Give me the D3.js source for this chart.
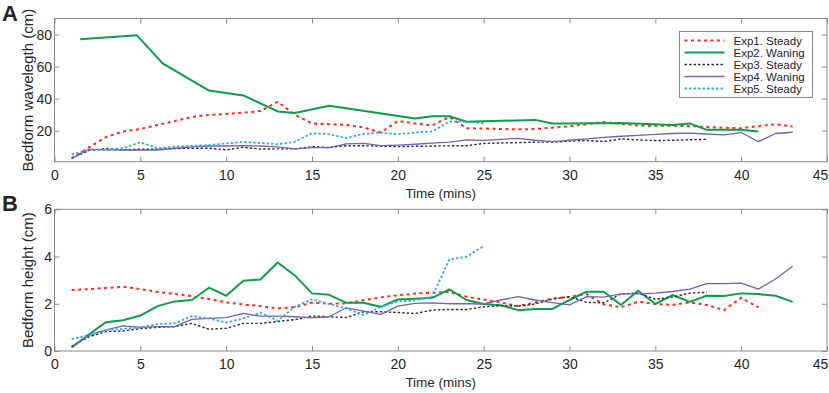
<!DOCTYPE html>
<html>
<head>
<meta charset="utf-8">
<script src="https://cdn.jsdelivr.net/npm/d3@7"></script>
<style>
  body { margin: 0; background: #fff; }
  text { font-family: "Liberation Sans", Arial, sans-serif; fill: #262626; }
</style>
</head>
<body>
<div id="chart"></div>
<script>
var width = 829
var height = 393

// series names and styles for the legend
var names = ["Exp1. Steady", "Exp2. Waning", "Exp3. Steady", "Exp4. Waning", "Exp5. Steady"]
var xTicks = [0, 5, 10, 15, 20, 25, 30, 35, 40, 45]
var yTicksA = [20, 40, 60, 80]
var yTicksB = [0, 2, 4, 6]

// panel A : bedform wavelength (cm)
var tA1 = [1,2,3,4,5,6,7,8,9,10,11,12,13,14,15,16,17,18,19,20,21,22,23,24,25,26,27,28,29,30,31,32,33,34,35,36,37,38,39,40,41,42,43]
var vA1 = [2.5,9.5,16,19.5,21,23.5,26,28.5,29.8,30.4,31.2,32.2,38,30,24.5,24,23.5,22,18.8,26,24.5,23.3,28.5,21.5,21.3,21,20.8,21,21.8,22.8,24,25.4,24.2,23.2,23,23,22.8,22.2,21.8,21.5,22.8,24,22.5]
var tA2 = [1.5,4.8,6.3,9,11,13,14,16,21,22,23,24,28,29,30,33,36,37,38,40,41]
var vA2 = [77,79.5,62,45,42,32,31,35.5,27.5,29,29,25.5,26.7,24.5,24.5,24.8,23.5,24.5,20.5,20.5,19.5]
var tA3 = [1,2,3,4,5,6,7,8,9,10,11,12,13,14,15,16,17,18,19,20,21,22,23,24,25,26,27,28,29,30,31,32,33,34,35,36,37,38]
var vA3 = [3,7.5,8.8,8,8.4,8.4,8.8,9,9,8,9.6,8.5,8.6,8.6,10,9.4,10.6,10.6,10.3,10,10.2,10.4,10.5,10.6,12,12.3,12.5,12.8,12.8,13.5,13.8,13.2,14.8,14.2,13.8,14,14.3,14.6]
var tA4 = [1,2,3,4,5,6,7,8,9,10,11,12,13,14,15,16,17,18,19,20,21,22,23,24,25,26,27,28,29,30,31,32,33,34,35,36,37,38,39,40,41,42,43]
var vA4 = [2.5,8.4,8,7.9,7.9,7.9,9,9.8,10.4,10.4,10.6,10.4,9.8,8.6,9.4,9.4,11.7,12,10.6,11,11.5,12.2,12.8,14.2,13.9,14.5,15.2,14,13.1,14,14.8,15.8,16.5,17,17.6,18.2,18.4,17.9,17.3,18.8,13.1,18.2,19]
var tA5 = [1,2,3,4,5,6,7,8,9,10,11,12,13,14,15,16,17,18,19,20,21,22,23,24,25]
var vA5 = [5,8,8,9,12.7,9,10,10.5,11,12,13,12.3,11.5,13,18.4,17.8,15.3,18,18.8,17.8,18.8,19.5,25.6,25.6,24.6]

// panel B : bedform height (cm)
var tB1 = [1,2,3,4,5,6,7,8,9,10,11,12,13,14,15,16,17,18,19,20,21,22,23,24,25,26,27,28,29,30,31,32,33,34,35,36,37,38,39,40,41]
var vB1 = [2.58,2.62,2.67,2.72,2.62,2.5,2.42,2.32,2.2,2.06,1.97,1.9,1.8,1.85,2.05,2,2.02,2.15,2.27,2.36,2.43,2.47,2.5,2.3,2.18,2.05,1.9,2.05,2.22,2.3,2.41,1.97,1.85,2.09,1.99,1.95,2.06,1.95,1.73,2.25,1.85]
var tB2 = [1,2,3,4,5,6,7,8,9,10,11,12,13,14,15,16,17,18,19,20,21,22,23,24,25,26,27,28,29,30,31,32,33,34,35,36,37,38,39,40,41,42,43]
var vB2 = [0.15,0.7,1.22,1.3,1.5,1.9,2.1,2.16,2.68,2.34,2.97,3.03,3.75,3.2,2.44,2.38,2.04,2.04,1.87,2.18,2.21,2.25,2.61,2.16,1.99,1.94,1.73,1.78,1.78,2.16,2.51,2.51,1.95,2.55,1.99,2.37,2.08,2.34,2.33,2.44,2.41,2.34,2.08]
var tB3 = [1,2,3,4,5,6,7,8,9,10,11,12,13,14,15,16,17,18,19,20,21,22,23,24,25,26,27,28,29,30,31,32,33,34,35,36,37,38]
var vB3 = [0.2,0.6,0.82,0.85,0.95,1,1.03,1.17,0.92,0.96,1.17,1.17,1.25,1.33,1.48,1.45,1.42,1.66,1.66,1.63,1.59,1.73,1.76,1.76,1.87,1.92,1.9,1.99,2.2,2.3,2.06,2.04,2.42,2.45,2.19,2.28,2.45,2.48]
var tB4 = [1,2,3,4,5,6,7,8,9,10,11,12,13,14,15,16,17,18,19,20,21,22,23,24,25,26,27,28,29,30,31,32,33,34,35,36,37,38,39,40,41,42,43]
var vB4 = [0.15,0.66,0.89,1.06,1,1.03,1.03,1.34,1.38,1.41,1.59,1.48,1.48,1.45,1.4,1.45,1.83,1.69,1.55,1.9,2.02,2.04,2,2,1.99,2.16,2.3,2.16,2.05,1.95,2.3,2.28,2.42,2.42,2.45,2.52,2.62,2.85,2.85,2.87,2.62,3.05,3.59]
var tB5 = [1,2,3,4,5,6,7,8,9,10,11,12,13,14,15,16,17,18,19,20,21,22,23,24,25]
var vB5 = [0.5,0.68,0.89,0.93,1,1.14,1.17,1.48,1.38,1.2,1.38,1.62,1.28,1.87,2.19,1.99,1.8,1.52,1.87,2.1,2.14,2.3,3.88,3.99,4.44]

var styles = [
  {color: "#ff2a1a", width: 2, dash: "3,3.5"},
  {color: "#0a9e48", width: 2, dash: null},
  {color: "#303030", width: 1.4, dash: "2.5,2"},
  {color: "#7262b6", width: 1.3, dash: null},
  {color: "#3aa8e2", width: 1.8, dash: "2.5,2"}
]

var svg = d3.select("#chart")
  .append("svg")
    .attr("width", width)
    .attr("height", height)

const x = d3.scaleLinear().domain([0, 45]).range([54.5, 827])

const drawPanel = (p) => {
  const y = d3.scaleLinear().domain(p.yDomain).range([p.bottom, p.top])
  const g = svg.append("g")

  g.append("rect")
    .attr("x", x.range()[0]).attr("y", p.top)
    .attr("width", x.range()[1] - x.range()[0]).attr("height", p.bottom - p.top)
    .attr("fill", "none").attr("stroke", "#8a8a8a").attr("stroke-width", 1)

  const bottomAxis = g.append("g")
    .attr("transform", `translate(0,${p.bottom})`)
    .call(d3.axisBottom(x).tickValues(xTicks).tickSizeInner(-5).tickSizeOuter(0).tickPadding(8).tickFormat(d3.format("d")))
  const topAxis = g.append("g")
    .attr("transform", `translate(0,${p.top})`)
    .call(d3.axisTop(x).tickValues(xTicks).tickSizeInner(-5).tickSizeOuter(0).tickFormat(""))
  const leftAxis = g.append("g")
    .attr("transform", `translate(${x.range()[0]},0)`)
    .call(d3.axisLeft(y).tickValues(p.yTicks).tickSizeInner(-5).tickSizeOuter(0).tickPadding(2.5).tickFormat(d3.format("d")))
  const rightAxis = g.append("g")
    .attr("transform", `translate(${x.range()[1]},0)`)
    .call(d3.axisRight(y).tickValues(p.yTicks).tickSizeInner(-5).tickSizeOuter(0).tickFormat(""))

  ;[bottomAxis, topAxis, leftAxis, rightAxis].forEach(a => {
    a.select(".domain").remove()
    a.selectAll(".tick line").attr("stroke", "#8a8a8a")
    a.selectAll(".tick text").attr("font-size", 14).attr("fill", "#262626")
  })
  // last label sits inside the page edge, as in the original
  bottomAxis.selectAll(".tick text").filter(d => d === 45).attr("dx", -7)

  const line = d3.line().x(d => x(d.t)).y(d => y(d.v))
  p.series.forEach((s, i) => {
    const pts = s.t.map((t, k) => ({t: t, v: s.v[k]}))
    g.append("path")
      .datum(pts)
      .attr("d", line)
      .attr("fill", "none")
      .attr("stroke", styles[i].color)
      .attr("stroke-width", styles[i].width)
      .attr("stroke-dasharray", styles[i].dash)
      .attr("stroke-linejoin", "round")
  })

  g.append("text")
    .attr("x", (x.range()[0] + x.range()[1]) / 2)
    .attr("y", p.bottom + 36)
    .attr("text-anchor", "middle")
    .attr("font-size", 13.5)
    .text("Time (mins)")

  g.append("text")
    .attr("transform", `translate(28,${(p.top + p.bottom) / 2}) rotate(-90)`)
    .attr("text-anchor", "middle")
    .attr("dy", "0.35em")
    .attr("font-size", 15)
    .text(p.yTitle)

  g.append("text")
    .attr("x", 2)
    .attr("y", p.top + 2)
    .attr("font-size", 22)
    .attr("font-weight", "bold")
    .attr("fill", "#000")
    .text(p.label)
  return g
}

drawPanel({
  top: 18.5, bottom: 161.7, yDomain: [0.6, 90], yTicks: yTicksA,
  yTitle: "Bedform wavelegth (cm)", label: "A",
  series: [{t: tA1, v: vA1}, {t: tA2, v: vA2}, {t: tA3, v: vA3}, {t: tA4, v: vA4}, {t: tA5, v: vA5}]
})

drawPanel({
  top: 209.3, bottom: 351, yDomain: [0, 6], yTicks: yTicksB,
  yTitle: "Bedform height (cm)", label: "B",
  series: [{t: tB1, v: vB1}, {t: tB2, v: vB2}, {t: tB3, v: vB3}, {t: tB4, v: vB4}, {t: tB5, v: vB5}]
})

// legend in panel A
var legend = svg.append("g").attr("transform", "translate(679.5,31.5)")
legend.append("rect")
  .attr("width", 133).attr("height", 66)
  .attr("fill", "#fff").attr("stroke", "#8a8a8a")
names.forEach((n, i) => {
  const row = legend.append("g").attr("transform", `translate(0,${9 + i * 12})`)
  row.append("line")
    .attr("x1", 5).attr("x2", 45)
    .attr("stroke", styles[i].color)
    .attr("stroke-width", styles[i].width)
    .attr("stroke-dasharray", styles[i].dash)
  row.append("text")
    .attr("x", 54).attr("dy", "0.35em")
    .attr("font-size", 11.5)
    .text(n)
})
</script>
</body>
</html>
